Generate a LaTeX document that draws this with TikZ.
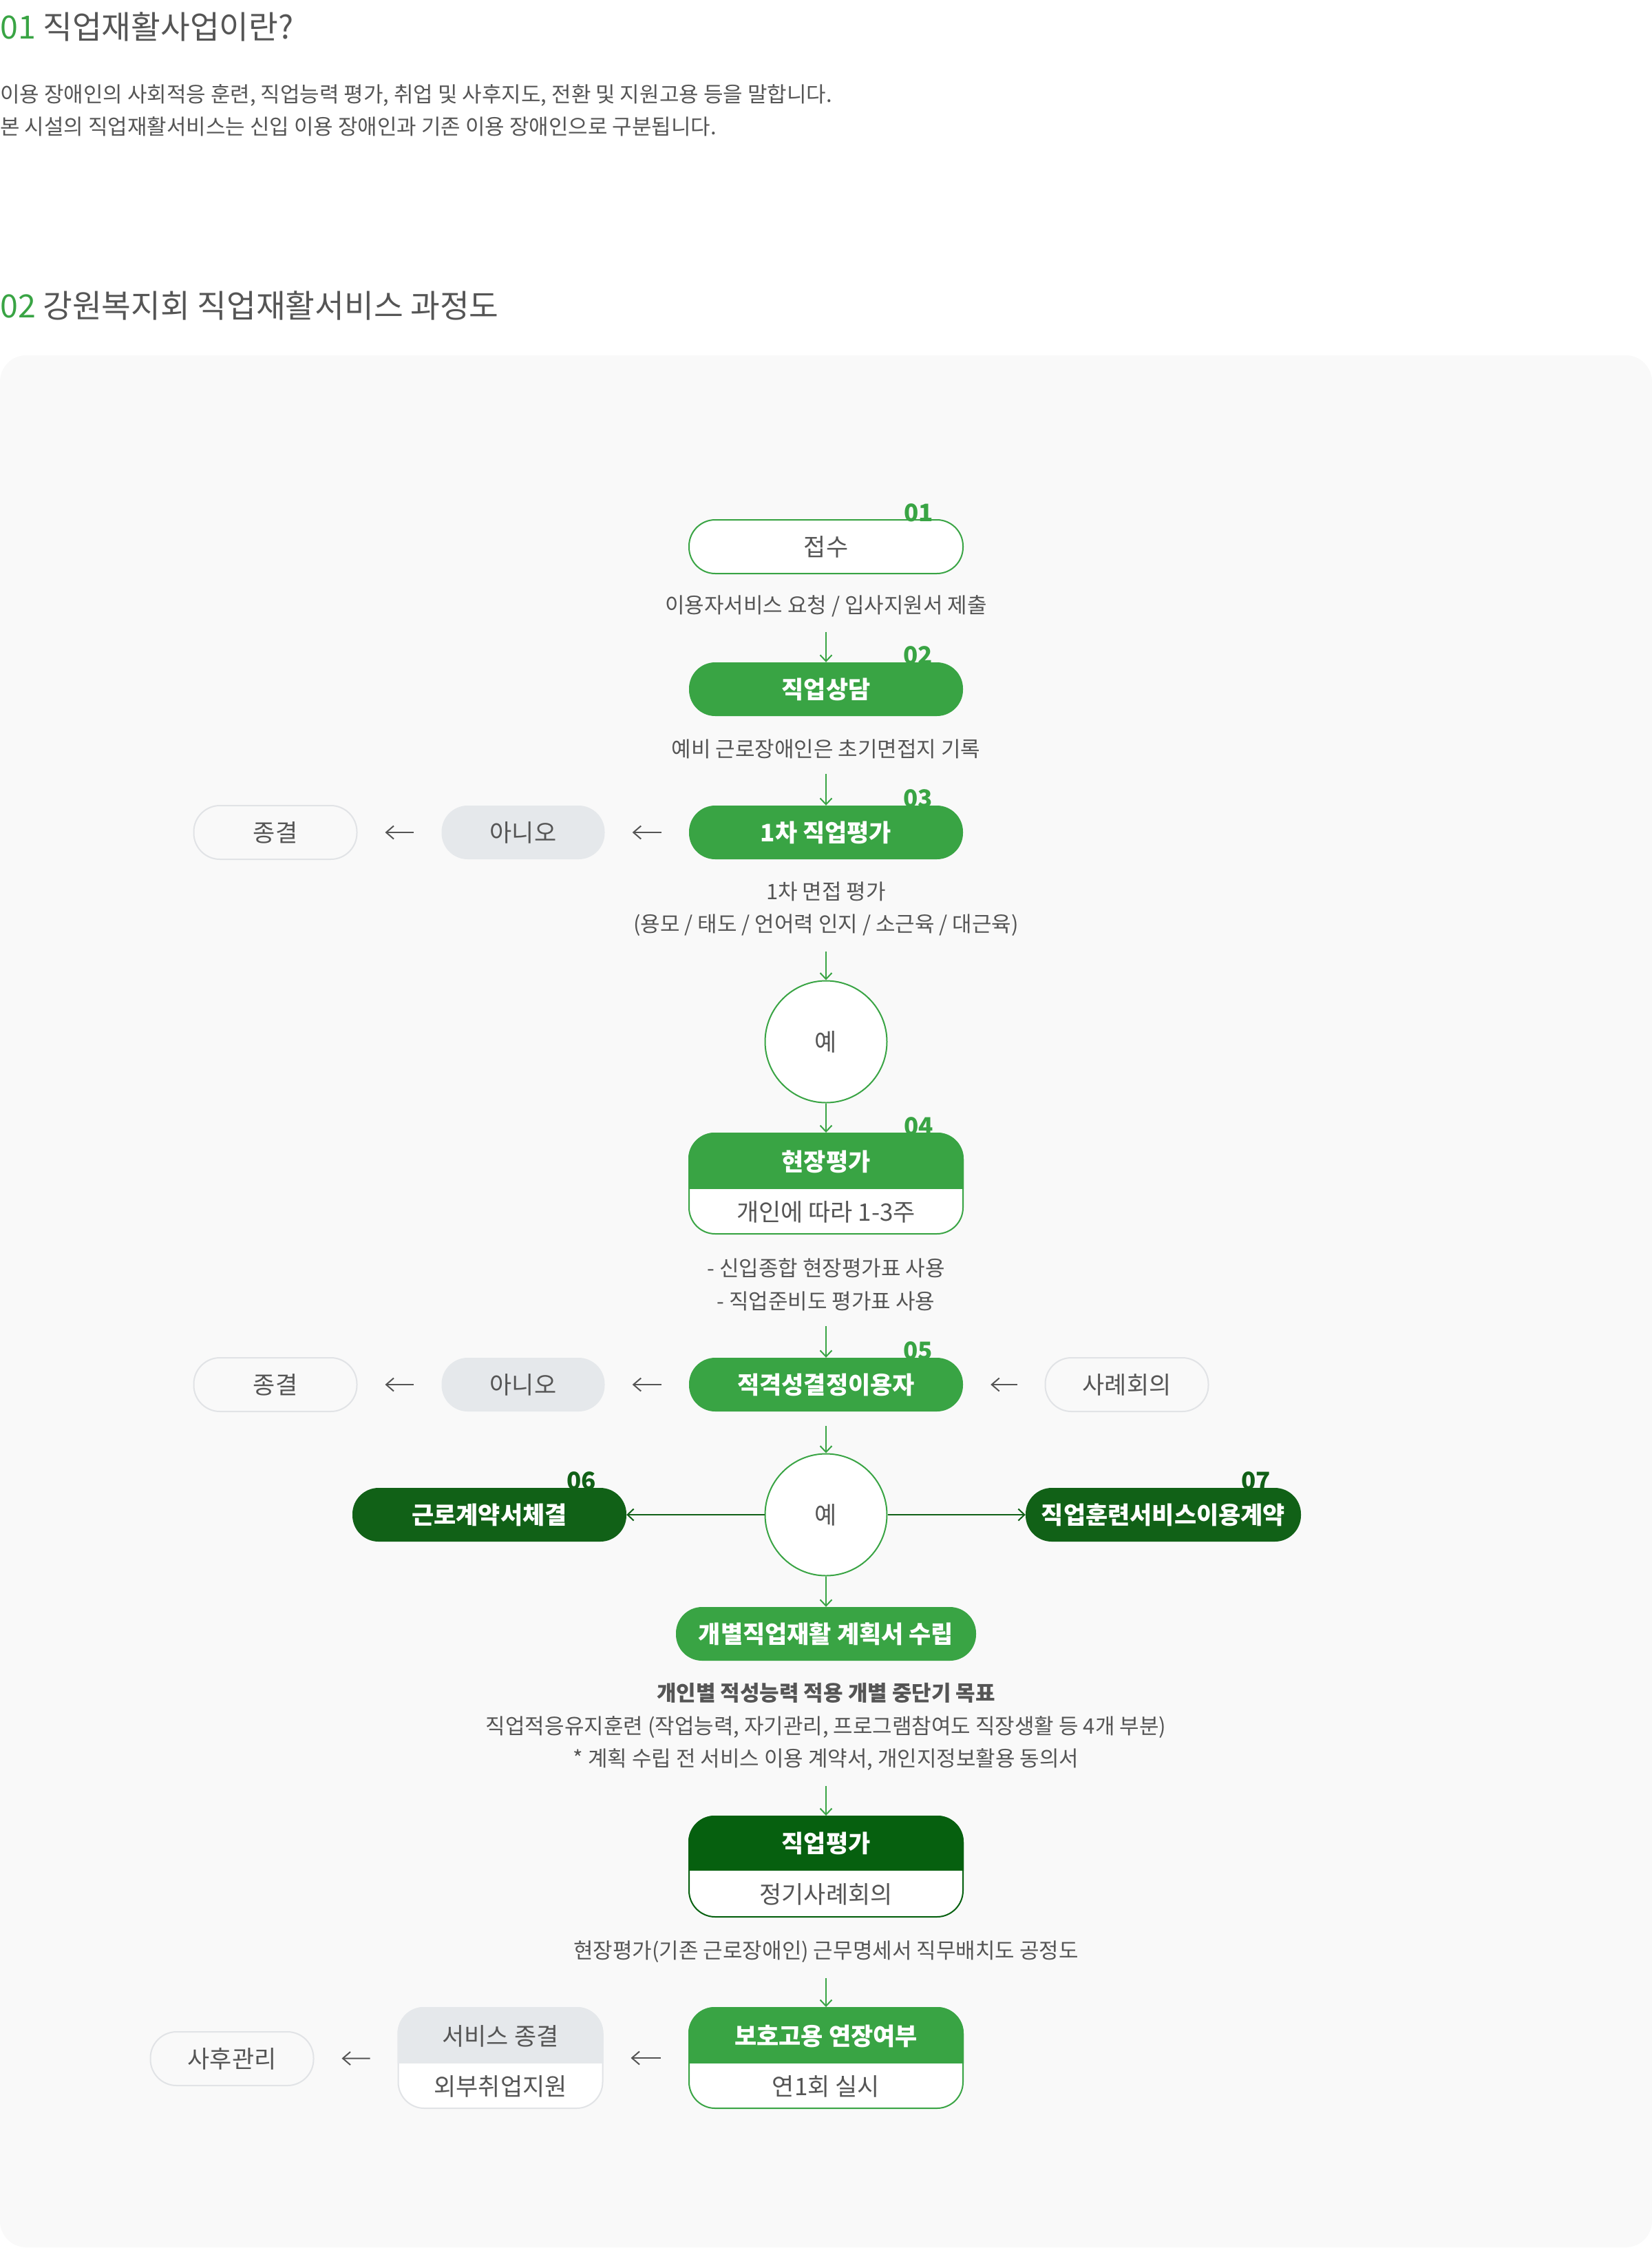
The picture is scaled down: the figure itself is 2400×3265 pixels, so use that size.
\documentclass[tikz,border=0pt]{standalone}
\usepackage{fontspec}
\setmainfont{Noto Sans CJK KR}
\usetikzlibrary{arrows.meta}
\definecolor{gr}{HTML}{39A444}
\definecolor{dg}{HTML}{116117}
\definecolor{dgb}{HTML}{06600F}
\definecolor{txt}{HTML}{555555}
\definecolor{grayf}{HTML}{E5E8EB}
\definecolor{lgray}{HTML}{E1E3E6}
\definecolor{panel}{HTML}{F9F9F9}

\begin{document}
\begin{tikzpicture}[x=1pt,y=-1pt,
	head/.style={anchor=west,inner sep=0pt,text=txt,font=\fontsize{46.5}{54}\selectfont},
	para/.style={anchor=west,inner sep=0pt,text=txt,font=\fontsize{31}{37}\selectfont},
	box/.style={rectangle,rounded corners=38pt,minimum width=398pt,minimum height=78pt,inner sep=0pt,font=\fontsize{35}{40}\selectfont},
	gbox/.style={box,fill=gr,text=white,font=\fontsize{35}{40}\selectfont\bfseries},
	dbox/.style={box,fill=dg,text=white,font=\fontsize{35}{40}\selectfont\bfseries},
	obox/.style={box,draw=gr,line width=2pt,fill=white,text=txt},
	nbox/.style={box,minimum width=237pt,fill=grayf,text=txt},
	lbox/.style={box,minimum width=237pt,draw=lgray,line width=2pt,fill=panel,text=txt},
	tbox/.style={box,minimum height=146pt,line width=2pt,fill=white},
	yes/.style={circle,draw=gr,line width=2pt,fill=white,minimum size=177pt,inner sep=0pt,text=txt,font=\fontsize{35}{40}\selectfont},
	desc/.style={align=center,inner sep=0pt,yshift=-4pt,text=txt,font=\fontsize{31}{47.5}\selectfont},
	wtxt/.style={inner sep=0pt,text=white,font=\fontsize{35}{40}\selectfont\bfseries},
	btxt/.style={inner sep=0pt,text=txt,font=\fontsize{35}{40}\selectfont},
	num/.style={anchor=base east,inner sep=0pt,text=gr,font=\fontsize{35}{40}\selectfont\bfseries},
	varr/.style={draw=gr,line width=2pt,-{Straight Barb[length=9pt,width=17pt]}},
	harr/.style={draw=txt,line width=2pt,-{Straight Barb[length=11pt,width=19pt]},shorten <=40pt,shorten >=40pt}]
	\useasboundingbox (0,0) rectangle (2400,3265);
	\fill[panel,rounded corners=38pt] (0,516) rectangle (2400,3264);
	
	\node[head] (h1) at (0,39) {\textcolor{gr}{01} 직업재활사업이란?};
	\node[para] (p1) at (0,138) {이용 장애인의 사회적응 훈련, 직업능력 평가, 취업 및 사후지도, 전환 및 지원고용 등을 말합니다.};
	\node[para] (p2) at (0,184) {본 시설의 직업재활서비스는 신입 이용 장애인과 기존 이용 장애인으로 구분됩니다.};
	\node[head] (h2) at (0,444) {\textcolor{gr}{02} 강원복지회 직업재활서비스 과정도};
	
	% 01 - 03
	\node[obox] (n01) at (1200,794) {접수};
	\node[num] at ([xshift=-44pt,yshift=-3pt]n01.north east) {01};
	\node[desc] (d01) at (1200,876) {이용자서비스 요청 / 입사지원서 제출};
	\node[gbox] (n02) at (1200,1001) {직업상담};
	\node[num] at ([xshift=-44pt,yshift=-3pt]n02.north east) {02};
	\node[desc] (d02) at (1200,1084) {예비 근로장애인은 초기면접지 기록};
	\node[gbox] (n03) at (1200,1209) {1차 직업평가};
	\node[num] at ([xshift=-44pt,yshift=-3pt]n03.north east) {03};
	\node[nbox] (no1) at (760,1209) {아니오};
	\node[lbox] (end1) at (400,1209) {종결};
	\node[desc] (d03) at (1200,1316) {1차 면접 평가\\(용모 / 태도 / 언어력 인지 / 소근육 / 대근육)};
	\node[yes] (y1) at (1200,1513) {예};
	
	\draw[varr,shorten <=22pt] (d01) -- (n02);
	\draw[varr,shorten <=22pt] (d02) -- (n03);
	\draw[harr] (n03) -- (no1);
	\draw[harr] (no1) -- (end1);
	\draw[varr,shorten <=22pt] (d03) -- (y1);
	
	% 04
	\node[tbox,draw=gr] (n04) at (1200,1719) {};
	\begin{scope}
		\clip (900,1600) rectangle (1500,1726);
		\fill[gr,rounded corners=38pt] (n04.south west) rectangle (n04.north east);
	\end{scope}
	\node[num] at ([xshift=-44pt,yshift=-3pt]n04.north east) {04};
	\node[wtxt] (t04) at (1200,1687) {현장평가};
	\node[btxt] (s04) at (1200,1760) {개인에 따라 1-3주};
	\draw[varr] (y1) -- (n04);
	\node[desc] (d04) at (1200,1862) {- 신입종합 현장평가표 사용\\- 직업준비도 평가표 사용};
	
	% 05
	\node[gbox] (n05) at (1200,2011) {적격성결정이용자};
	\node[num] at ([xshift=-44pt,yshift=-3pt]n05.north east) {05};
	\node[nbox] (no2) at (760,2011) {아니오};
	\node[lbox] (end2) at (400,2011) {종결};
	\node[lbox] (case) at (1637,2011) {사례회의};
	\draw[varr,shorten <=22pt] (d04) -- (n05);
	\draw[harr] (n05) -- (no2);
	\draw[harr] (no2) -- (end2);
	\draw[harr] (case) -- (n05);
	
	% 06 - 07
	\node[yes] (y2) at (1200,2200) {예};
	\node[dbox] (n06) at (711,2200) {근로계약서체결};
	\node[num,text=dg] at ([xshift=-44pt,yshift=-3pt]n06.north east) {06};
	\node[dbox,minimum width=400pt] (n07) at (1690,2200) {직업훈련서비스이용계약};
	\node[num,text=dg] at ([xshift=-44pt,yshift=-3pt]n07.north east) {07};
	\draw[varr,shorten <=21pt] (n05) -- (y2);
	\draw[varr,draw=dg] (y2) -- (n06);
	\draw[varr,draw=dg] (y2) -- (n07);
	
	\node[gbox,minimum width=436pt] (plan) at (1200,2373) {개별직업재활 계획서 수립};
	\draw[varr] (y2) -- (plan);
	\node[desc] (d05) at (1200,2504) {{\bfseries 개인별 적성능력 적용 개별 중단기 목표}\\직업적응유지훈련 (작업능력, 자기관리, 프로그램참여도 직장생활 등 4개 부분)\\* 계획 수립 전 서비스 이용 계약서, 개인지정보활용 동의서};
	
	\node[tbox,draw=dgb] (n08) at (1200,2711) {};
	\begin{scope}
		\clip (900,2600) rectangle (1500,2716);
		\fill[dgb,rounded corners=38pt] (n08.south west) rectangle (n08.north east);
	\end{scope}
	\node[wtxt] (t08) at (1200,2677) {직업평가};
	\node[btxt] (s08) at (1200,2751) {정기사례회의};
	\draw[varr,shorten <=22pt] (d05) -- (n08);
	\node[desc] (d06) at (1200,2831) {현장평가(기존 근로장애인) 근무명세서 직무배치도 공정도};
	
	% last row
	\node[tbox,draw=gr] (n09) at (1200,2989) {};
	\begin{scope}
		\clip (900,2880) rectangle (1500,2996);
		\fill[gr,rounded corners=38pt] (n09.south west) rectangle (n09.north east);
	\end{scope}
	\node[wtxt] (t09) at (1200,2957) {보호고용 연장여부};
	\node[btxt] (s09) at (1200,3030) {연1회 실시};
	\draw[varr,shorten <=22pt] (d06) -- (n09);
	
	\node[tbox,draw=lgray,minimum width=297pt] (svc) at (727,2989) {};
	\begin{scope}
		\clip (500,2880) rectangle (950,2996);
		\fill[grayf,rounded corners=38pt] (svc.south west) rectangle (svc.north east);
	\end{scope}
	\node[btxt] (t10) at (727,2957) {서비스 종결};
	\node[btxt] (s10) at (727,3030) {외부취업지원};
	\node[lbox] (after) at (337,2990) {사후관리};
	\draw[harr] (n09) -- (svc);
	\draw[harr] (svc) -- (after);
\end{tikzpicture}
\end{document}
